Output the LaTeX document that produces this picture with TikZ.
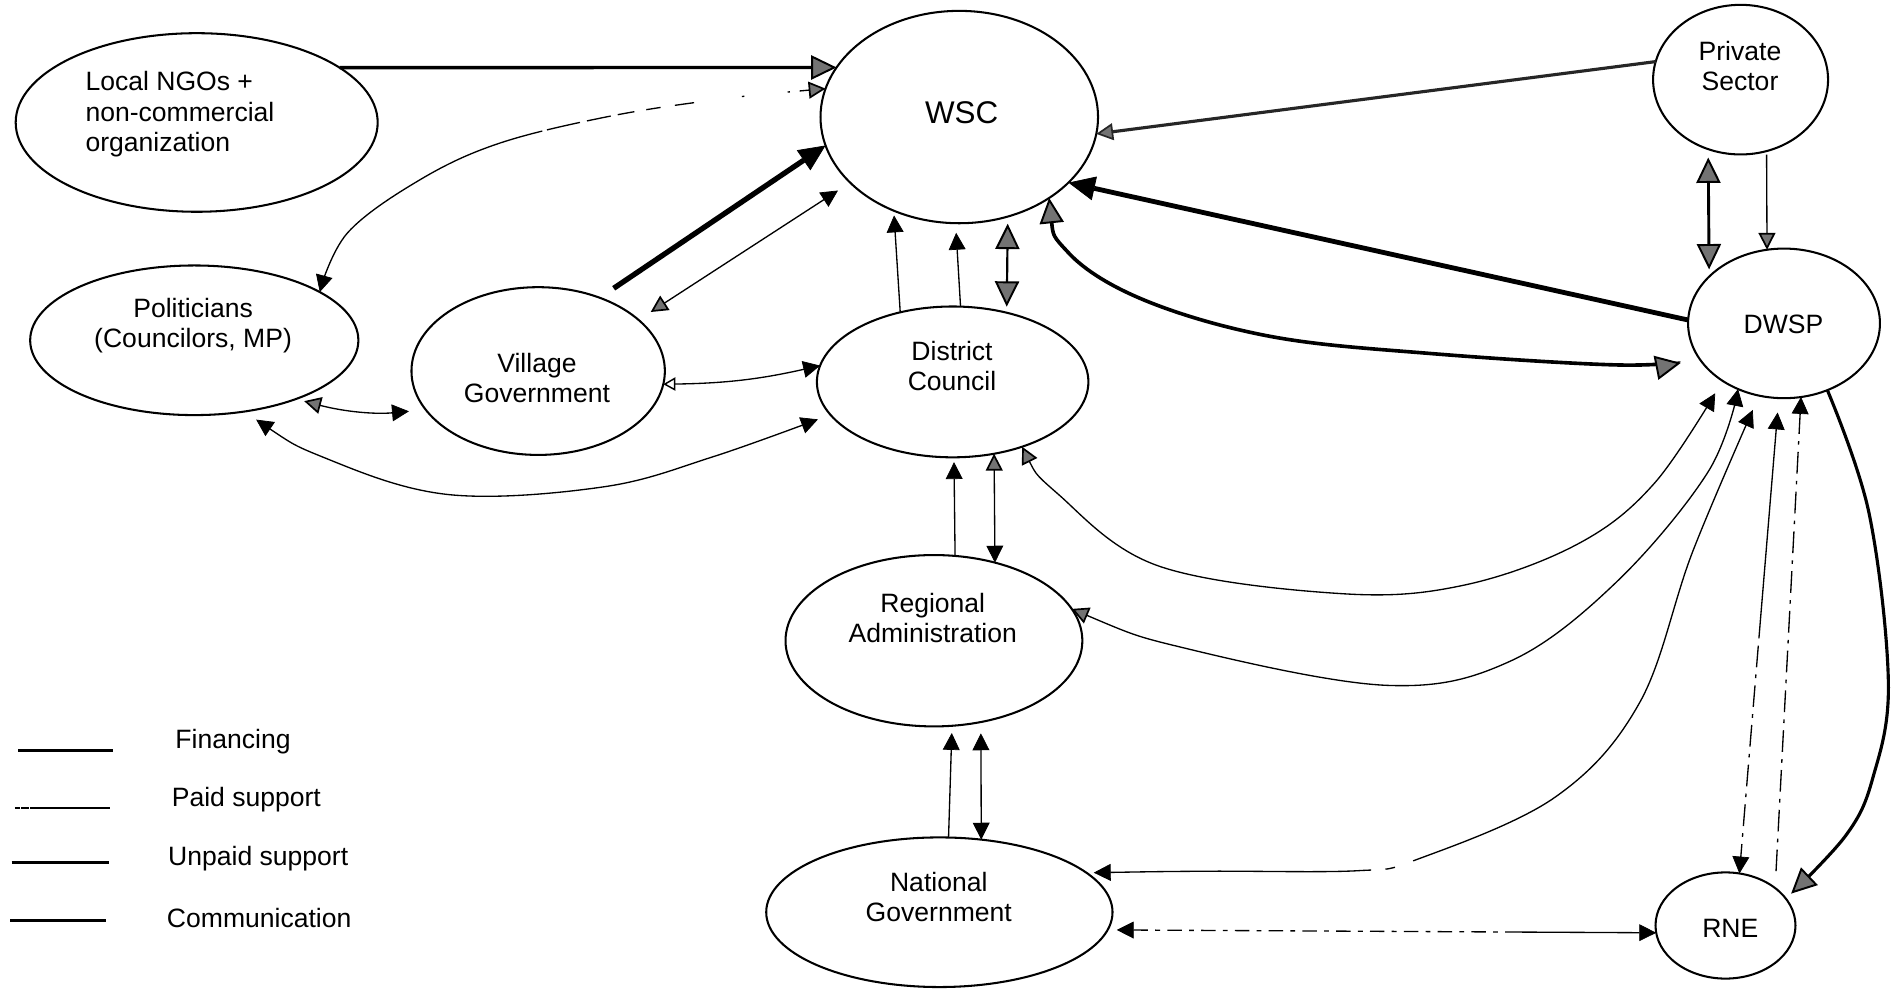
\documentclass[tikz,border=0pt]{standalone}
\usepackage{fontspec}
\setmainfont{Liberation Sans}
\usetikzlibrary{arrows.meta,shapes.geometric}

\tikzset{
  ent/.style={draw, ellipse, line width=0.85pt, inner sep=0pt, outer sep=0pt},
  lbl/.style={font=\fontsize{11}{12.5}\selectfont, align=center, inner sep=0pt},
  conn/.style={line width=0.55pt},
  hB/.tip={Triangle[length=7pt,width=7pt,line width=0.3pt]},
  hS/.tip={Triangle[length=7pt,width=7pt,line width=0.7pt,fill=black!55]},
  hO/.tip={Triangle[open,length=5pt,width=5.5pt,line width=0.6pt]},
  hBB/.tip={Triangle[length=11pt,width=10pt,line width=0.3pt]},
  hSS/.tip={Triangle[length=10.5pt,width=10pt,line width=0.8pt,fill=black!55]},
}

\begin{document}
\begin{tikzpicture}[x=0.5pt,y=-0.5pt]
\useasboundingbox (0,0) rectangle (1568,820);
\fill[white] (0,0) rectangle (1568,820);

% actors
\node[ent, minimum width=150pt,   minimum height=74pt]   (ngo)  at (163,101.5) {};
\node[ent, minimum width=115pt,   minimum height=88pt]   (wsc)  at (795,97) {};
\node[ent, minimum width=72.5pt,  minimum height=62pt]   (priv) at (1442.5,66) {};
\node[ent, minimum width=136pt,   minimum height=62pt]   (pol)  at (161,282) {};
\node[ent, minimum width=105pt,   minimum height=69.5pt] (vil)  at (446,307.5) {};
\node[ent, minimum width=112.5pt, minimum height=62.5pt] (dc)   at (789.5,316.5) {};
\node[ent, minimum width=79.5pt,  minimum height=62pt]   (dwsp) at (1478.5,268) {};
\node[ent, minimum width=123pt,   minimum height=71pt]   (reg)  at (774,531) {};
\node[ent, minimum width=143.5pt, minimum height=62pt]   (nat)  at (778.5,756) {};
\node[ent, minimum width=58pt,    minimum height=44pt]   (rne)  at (1430,767) {};

% actor names
\node[lbl, align=left, anchor=west] (ngo-t) at (70.5,94.7) {Local NGOs +\\non-commercial\\organization};
\node[lbl, font=\fontsize{13}{15}\selectfont] (wsc-t) at (797,93) {WSC};
\node[lbl] (priv-t) at (1442,54.5) {Private\\Sector};
\node[lbl] (pol-t)  at (160,270) {Politicians\\(Councilors, MP)};
\node[lbl] (vil-t)  at (445,313) {Village\\Government};
\node[lbl] (dc-t)   at (789,303) {District\\Council};
\node[lbl] (dwsp-t) at (1478,269) {DWSP};
\node[lbl] (reg-t)  at (773,512) {Regional\\Administration};
\node[lbl] (nat-t)  at (778,743.5) {National\\Government};
\node[lbl] (rne-t)  at (1434,769) {RNE};

% financing into WSC
\draw[line width=1.4pt, arrows={-hSS}] (ngo.21) -- (wsc.158);
\draw[line width=2.2pt, arrows={-hBB}, shorten <=7pt] (vil.50) -- (wsc.192);
\draw[line width=2pt, arrows={-hBB}] (dwsp.178) -- (wsc.329.5);

% WSC <-> politicians
\draw[conn, arrows={hS-hB},
  dash pattern=on 4pt off 4pt on 1pt off 18pt on 1pt off 20pt on 8pt off 6pt on 6pt off 5pt on 7pt off 3pt on 10pt off 3pt on 14pt off 2pt on 400pt]
  plot[smooth, tension=0.6] coordinates {(wsc.168) (591,83) (502,97) (413,119) (348,149) (288,193) (pol.21)};

% WSC <-> village, district
\draw[conn, arrows={hS-hB}, shorten <=6pt, shorten >=6pt] (vil.27) -- (wsc.211);
\draw[conn, arrows={-hB}, shorten >=2pt] (dc.127) -- (wsc.235);
\draw[conn, arrows={-hB}, shorten >=4pt] (dc.84.5) -- (wsc.268);
\draw[line width=0.9pt, arrows={hSS-hSS}, shorten <=3pt, shorten >=2.5pt] (wsc.296) -- (dc.52);

% private sector
\draw[line width=1.3pt, black!85, arrows={-hS}] (priv.168.5) -- (wsc.353);
\draw[line width=1.2pt, arrows={hSS-hSS}, shorten <=3.5pt, shorten >=3pt] (priv.245.3) -- (dwsp.148.5);
\draw[conn, arrows={-hS}, shorten <=1.5pt] (priv.290) -- (dwsp.103.4);

% WSC <-> DWSP
\draw[line width=1.5pt, arrows={hSS-hSS}, shorten >=8pt]
  plot[smooth, tension=0.6] coordinates {(wsc.318.6) (886,210) (949,249) (1054,279) (1186,293) (1343,302.5) (dwsp.203)};

% village level
\draw[conn, arrows={hO-hB}] (vil.354) to[bend right=6] (dc.173);
\draw[conn, arrows={hS-hB}, shorten <=3.5pt, shorten >=7pt] (pol.330.5) to[bend right=10] (vil.199);
\draw[conn, arrows={hB-hB}, shorten <=6pt, shorten >=5.5pt]
  plot[smooth, tension=0.6] coordinates {(pol.305.4) (273,381) (373,410) (500,403.5) (591,378.5) (dc.195.8)};

% district / region / nation
\draw[conn, arrows={-hB}, shorten >=2pt] (reg.76) -- (dc.271.8);
\draw[conn, arrows={hS-hB}] (dc.300.6) -- (reg.52);
\draw[conn, arrows={-hB}, shorten >=3pt] (nat.83.4) -- (reg.282);
\draw[conn, arrows={hB-hB}, shorten <=4.7pt] (reg.300.8) -- (nat.60.2);

% DWSP to the administrative levels
\draw[conn, arrows={hS-hB}, shorten >=6pt]
  plot[smooth, tension=0.6] coordinates {(dc.317.2) (877.5,410) (960,469) (1112,492) (1213,485) (1308,450.6) (1371.5,400) (dwsp.223.4)};
\draw[conn, arrows={hS-hB}]
  plot[smooth, tension=0.6] coordinates {(reg.13.8) (985.5,538) (1150,568) (1251.5,548) (1340,482) (1415.6,391) (dwsp.235.9)};
\draw[conn, arrows={hB-hB}, shorten <=3pt, shorten >=6.5pt,
  dash pattern=on 108pt off 6pt on 4pt off 8pt on 500pt]
  plot[smooth, tension=0.6] coordinates {(nat.15.1) (1000,722) (1125,721.6) (1175,712) (1289,660.5) (1359,582) (1403,456.6) (dwsp.251.8)};

% DWSP <-> RNE
\draw[conn, arrows={hB-hB}, shorten <=6pt,
  dash pattern=on 87pt off 3pt on 9pt off 3pt on 1.5pt off 3pt on 9pt off 3pt on 1.5pt off 3pt on 9pt off 3pt on 1.5pt off 3pt on 9pt off 3pt on 1.5pt off 3pt on 9pt off 3pt on 1.5pt off 3pt on 40pt]
  (dwsp.266.4) -- (rne.75.8);
\draw[conn, arrows={-hB}, shorten <=7pt, dash pattern=on 9pt off 3pt on 1.5pt off 3pt] (rne.37.2) -- (dwsp.283);
\draw[line width=1.3pt, arrows={-hSS}, shorten >=3pt]
  plot[smooth, tension=0.6] coordinates {(dwsp.303.2) (1549,425.5) (1565,566.5) (1552,645) (1530,692) (rne.24.4)};

% national government <-> RNE
\draw[conn, arrows={hB-hB}, shorten <=3.8pt,
  dash pattern=on 6pt off 3pt on 2pt off 3pt on 6pt off 3pt on 2pt off 3pt on 6pt off 3pt on 2pt off 3pt on 6pt off 3pt on 2pt off 3pt on 6pt off 3pt on 2pt off 3pt on 6pt off 3pt on 2pt off 3pt on 6pt off 3pt on 2pt off 3pt on 6pt off 3pt on 2pt off 3pt on 6pt off 3pt on 2pt off 3pt on 6pt off 3pt on 2pt off 3pt on 6pt off 3pt on 2pt off 3pt on 300pt]
  (nat.354) -- (rne.186);

% legend
\draw[line width=1.25pt] (15,622) -- (94,622);
\draw[line width=0.8pt, dash pattern=on 2pt off 0.7pt on 3pt off 0.7pt on 50pt] (12.4,670) -- (91,670);
\draw[line width=1.3pt] (9.7,715) -- (90,715);
\draw[line width=1.1pt] (8.3,763) -- (88,763);
\node[lbl, anchor=base west] (leg-fin) at (145,620) {Financing};
\node[lbl, anchor=base west] (leg-paid) at (142,668.5) {Paid support};
\node[lbl, anchor=base west] (leg-unpaid) at (139,717.5) {Unpaid support};
\node[lbl, anchor=base west] (leg-comm) at (138,768.5) {Communication};
\end{tikzpicture}
\end{document}
